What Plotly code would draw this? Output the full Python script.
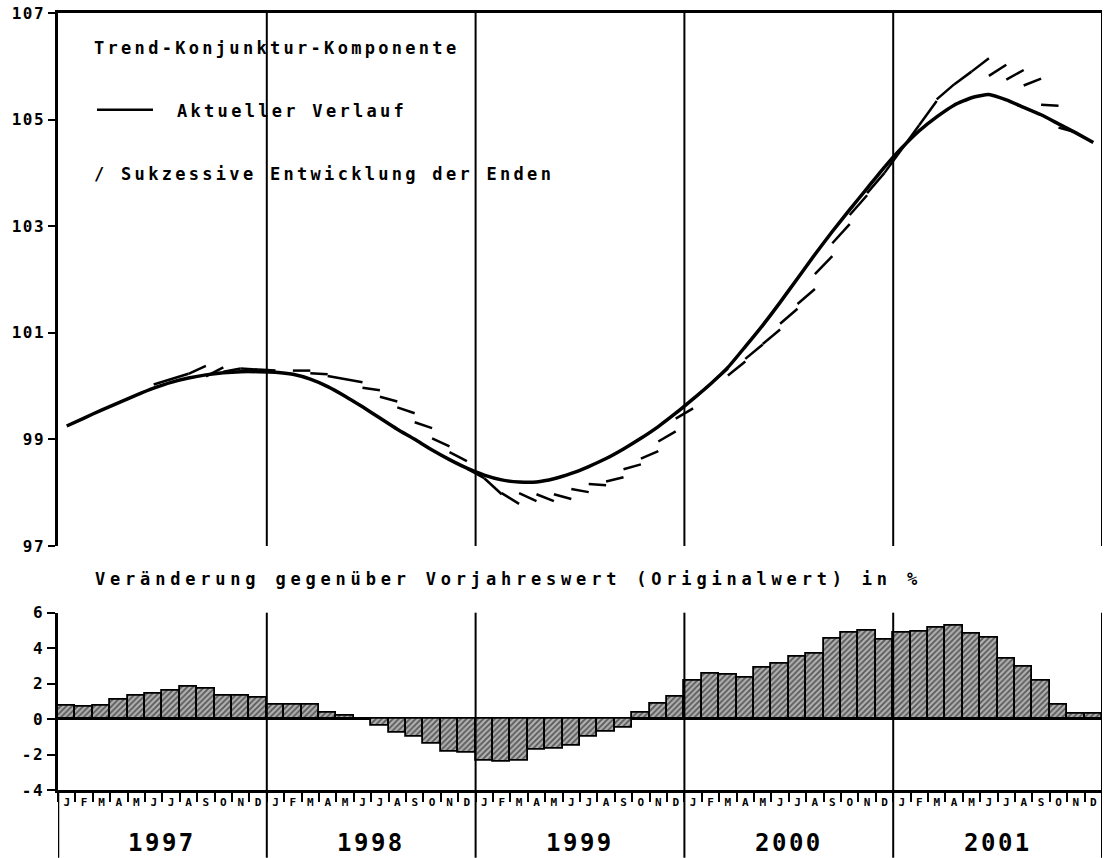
import plotly.graph_objects as go

# ---------------- data ----------------
years = ["1997", "1998", "1999", "2000", "2001"]
month_letters = ["J", "F", "M", "A", "M", "J", "J", "A", "S", "O", "N", "D"]

# Trend-Konjunktur-Komponente, aktueller Verlauf (monthly, Jan 1997 - Dec 2001)
trend_1997 = [99.25, 99.40, 99.55, 99.69, 99.83, 99.96, 100.07, 100.15, 100.21, 100.25, 100.27, 100.27]
trend_1998 = [100.26, 100.22, 100.13, 99.99, 99.81, 99.61, 99.40, 99.19, 99.00, 98.80, 98.62, 98.46]
trend_1999 = [98.33, 98.24, 98.20, 98.20, 98.26, 98.36, 98.49, 98.64, 98.82, 99.02, 99.24, 99.49]
trend_2000 = [99.76, 100.04, 100.35, 100.74, 101.14, 101.57, 102.02, 102.47, 102.90, 103.31, 103.71, 104.11]
trend_2001 = [104.47, 104.79, 105.05, 105.27, 105.41, 105.47, 105.37, 105.23, 105.09, 104.92, 104.75, 104.57]

# Sukzessive Entwicklung der Enden: start month index, start value, end month index, end value
dash_m0 = [5, 7, 8, 9, 10, 11,
           13, 14, 15, 17, 18, 19, 20, 21, 22,
           23, 24, 25, 26, 27, 28, 29, 30, 31, 32, 33, 34, 35,
           36, 38, 39, 40, 41, 42, 43, 44, 45, 46,
           47, 48, 49, 50, 51, 52, 53, 54, 55, 56, 57]
dash_v0 = [100.03, 100.23, 100.18, 100.27, 100.33, 100.31,
           100.29, 100.24, 100.19, 99.97, 99.80, 99.60, 99.32, 99.02, 98.76,
           98.45, 98.27, 97.99, 97.99, 97.97, 97.97, 98.07, 98.16, 98.21, 98.44, 98.64, 98.96, 99.39,
           99.75, 100.20, 100.51, 100.79, 101.17, 101.54, 102.10, 102.68, 103.21, 103.62,
           104.00, 104.45, 104.90, 105.38, 105.66, 105.90, 105.82, 105.75, 105.64, 105.28, 104.85]
dash_m1 = [7, 8, 9, 10, 11, 12,
           14, 15, 17, 18, 19, 20, 21, 22, 23,
           24, 25, 26, 27, 28, 29, 30, 31, 32, 33, 34, 35, 36,
           38, 39, 40, 41, 42, 43, 44, 45, 46, 47,
           48, 49, 50, 51, 52, 53, 54, 55, 56, 57, 58]
dash_v1 = [100.23, 100.38, 100.35, 100.33, 100.31, 100.29,
           100.29, 100.22, 100.07, 99.92, 99.71, 99.49, 99.21, 98.87, 98.59,
           98.27, 97.97, 97.79, 97.84, 97.84, 97.88, 98.01, 98.14, 98.29, 98.53, 98.78, 99.15, 99.58,
           100.33, 100.46, 100.78, 101.06, 101.45, 101.82, 102.44, 103.04, 103.58, 104.00,
           104.45, 104.90, 105.35, 105.66, 105.90, 106.15, 106.03, 105.93, 105.77, 105.26, 104.76]

# Veränderung gegenüber Vorjahreswert (Originalwert) in %
chg_1997 = [0.75, 0.70, 0.73, 1.07, 1.32, 1.41, 1.60, 1.83, 1.69, 1.32, 1.32, 1.22]
chg_1998 = [0.81, 0.81, 0.81, 0.38, 0.19, 0.03, -0.38, -0.75, -1.00, -1.41, -1.85, -1.92]
chg_1999 = [-2.35, -2.42, -2.35, -1.73, -1.69, -1.51, -0.98, -0.70, -0.47, 0.34, 0.85, 1.28]
chg_2000 = [2.16, 2.54, 2.50, 2.32, 2.92, 3.11, 3.54, 3.71, 4.56, 4.86, 4.99, 4.46]
chg_2001 = [4.86, 4.93, 5.18, 5.27, 4.80, 4.58, 3.39, 2.98, 2.16, 0.81, 0.28, 0.28]

top_ticks = [97, 99, 101, 103, 105, 107]
bottom_ticks = [-4, -2, 0, 2, 4, 6]

# ---------------- build ----------------
trend = trend_1997 + trend_1998 + trend_1999 + trend_2000 + trend_2001
chg = chg_1997 + chg_1998 + chg_1999 + chg_2000 + chg_2001
n = len(trend)
months = list(range(n))

FONT = "DejaVu Sans Mono"

def spaced(txt, sp):
    return f'<span style="letter-spacing:{sp}px">{txt}</span>'

dx, dy = [], []
for a, va, b, vb in zip(dash_m0, dash_v0, dash_m1, dash_v1):
    dx += [a, b, None]
    dy += [va, vb, None]

fig = go.Figure()
fig.add_trace(go.Scatter(x=dx, y=dy, mode="lines", xaxis="x", yaxis="y",
                         line=dict(color="black", width=2.5), hoverinfo="skip"))
fig.add_trace(go.Scatter(x=months, y=trend, mode="lines", xaxis="x", yaxis="y",
                         line=dict(color="black", width=3.5, shape="spline", smoothing=0.5)))
fig.add_trace(go.Bar(x=months, y=chg, xaxis="x2", yaxis="y2", width=1.0,
                     marker=dict(color="#9a9a9a",
                                 line=dict(color="black", width=1.8),
                                 pattern=dict(shape="/", fgcolor="#000000", bgcolor="#b0b0b0",
                                              size=4, solidity=0.45))))

bottom_edge = -68 / 780
top2 = (790 - 612) / 780
top1_low = (790 - 545) / 780

shapes = []
for k in range(1, len(years) + 1):
    xb = 12 * k - 0.5
    shapes.append(dict(type="line", xref="x", yref="y", x0=xb, x1=xb, y0=97, y1=107,
                       line=dict(color="black", width=2)))
    shapes.append(dict(type="line", xref="x2", yref="paper", x0=xb, x1=xb, y0=bottom_edge, y1=top2,
                       line=dict(color="black", width=2)))
shapes.append(dict(type="line", xref="x2", yref="paper", x0=-0.5, x1=-0.5, y0=bottom_edge, y1=0,
                   line=dict(color="black", width=2.5)))
# legend sample line
shapes.append(dict(type="line", xref="paper", yref="paper",
                   x0=(97 - 58) / 1044, x1=(153 - 58) / 1044,
                   y0=(790 - 107) / 780, y1=(790 - 107) / 780,
                   line=dict(color="black", width=2.5)))

ann = []
def add_text(txt, px, py, size, sp, anchor="left"):
    ann.append(dict(text=spaced(txt, sp), xref="paper", yref="paper",
                    x=(px - 58) / 1044, y=(790 - py) / 780, xanchor=anchor, yanchor="middle",
                    showarrow=False, font=dict(family=FONT, size=size, color="black", weight="bold")))

add_text("Trend-Konjunktur-Komponente", 92, 45, 17, 3.3)
add_text("Aktueller Verlauf", 175, 108, 17, 3.3)
add_text("/ Sukzessive Entwicklung der Enden", 92, 172, 17, 3.3)
add_text("Veränderung gegenüber Vorjahreswert (Originalwert) in %", 93, 578, 17, 4.8)

for k, yr in enumerate(years):
    ann.append(dict(text=spaced(yr, 2.5), xref="x2", yref="paper", x=12 * k + 5.5, y=bottom_edge,
                    xanchor="center", yanchor="bottom", showarrow=False, borderpad=0,
                    font=dict(family=FONT, size=24, color="black", weight="bold")))

axis_font = dict(family=FONT, size=16, color="black", weight="bold")

fig.update_layout(
    width=1106, height=858,
    margin=dict(l=58, r=4, t=10, b=68),
    paper_bgcolor="white", plot_bgcolor="white",
    showlegend=False, bargap=0,
    xaxis=dict(domain=[0, 1], anchor="y", side="top", range=[-0.5, n - 0.5],
               showline=True, linecolor="black", linewidth=2.5, showticklabels=False,
               ticks="", showgrid=False, zeroline=False),
    yaxis=dict(domain=[top1_low, 1], anchor="x", range=[97, 107], tickvals=top_ticks,
               ticktext=[spaced(str(t), 1.5) for t in top_ticks],
               ticks="outside", ticklen=7, tickwidth=2, tickcolor="black",
               showline=True, linecolor="black", linewidth=2.5, showgrid=False, zeroline=False,
               tickfont=axis_font),
    xaxis2=dict(domain=[0, 1], anchor="y2", range=[-0.5, n - 0.5],
                tickvals=months, ticktext=month_letters * len(years),
                ticks="", showline=True, linecolor="black", linewidth=2.5, showgrid=False,
                zeroline=False, tickfont=dict(family=FONT, size=11, color="black", weight="bold"),
                minor=dict(ticks="outside", ticklen=9, tickwidth=1.5, tickcolor="black",
                           tickmode="array", tickvals=[m - 0.5 for m in months], showgrid=False)),
    yaxis2=dict(domain=[0, top2], anchor="x2", range=[-4, 6], tickvals=bottom_ticks,
                ticktext=[spaced(str(t), 1.5) for t in bottom_ticks],
                ticks="outside", ticklen=8, tickwidth=2, tickcolor="black",
                showline=True, linecolor="black", linewidth=2.5, showgrid=False,
                zeroline=True, zerolinecolor="black", zerolinewidth=2, tickfont=axis_font),
    shapes=shapes,
    annotations=ann,
)

fig.write_html("out.html", config={"displayModeBar": False},
               post_script="document.body.style.margin='0';document.body.style.overflow='hidden';")
